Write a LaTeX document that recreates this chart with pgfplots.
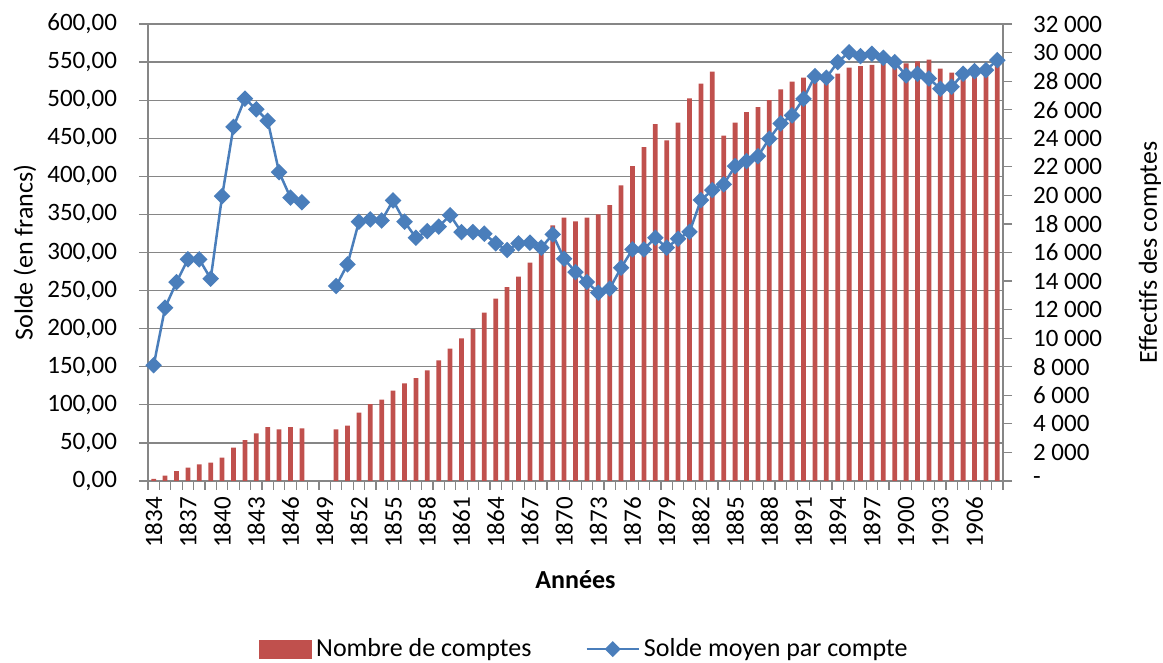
\documentclass[border=0pt]{standalone}
\usepackage{fontspec}
\setmainfont{Carlito}
\usepackage{pgfplots}
\pgfplotsset{compat=1.18}
\definecolor{barred}{HTML}{C0504D}
\definecolor{lineblue}{HTML}{4A7EBB}
\definecolor{axgray}{HTML}{868686}

\begin{document}
\begin{tikzpicture}
\pgfplotsset{
  base/.style={
    scale only axis, width=427.5pt, height=228.5pt,
    xmin=1833.5, xmax=1908.5,
    tick align=outside,
    major tick length=4.5pt,
    every tick/.style={axgray, line width=0.6pt},
    /pgf/number format/assume math mode=true,
    tick label style={font=\fontsize{12.5}{14}\selectfont, black},
    axis line style={-, axgray, line width=0.6pt},
    every outer x axis line/.append style={-},
    every outer y axis line/.append style={-},
    label style={font=\fontsize{13}{15}\selectfont},
  }
}
% left axis: grid, years, balance scale
\begin{axis}[base, name=ax,
  axis y line*=left, axis x line*=bottom,
  ymin=0, ymax=600, ytick={0,50,...,600},
  ymajorgrids, grid style={axgray, line width=0.6pt},
  yticklabel style={xshift=-7.5pt, /pgf/number format/.cd, fixed, fixed zerofill, precision=2, use comma},
  xtick={1834,1837,...,1906}, xtick style={draw=none},
  xticklabel style={rotate=90, anchor=east, /pgf/number format/1000 sep={}},
  xlabel={\textbf{Années}}, ylabel={Solde (en francs)},
  xlabel style={at={(axis description cs:0.5,-0.2166)}, anchor=center},
  ylabel style={at={(axis description cs:-0.144,0.5)}, anchor=center},
]
\end{axis}
% right axis: number of accounts
\begin{axis}[base,
  axis y line*=right, axis x line*=bottom,
  ymin=0, ymax=32000, ytick={0,2000,...,32000}, scaled y ticks=false,
  yticklabels={-,2~000,4~000,6~000,8~000,10~000,12~000,14~000,16~000,18~000,20~000,22~000,24~000,26~000,28~000,30~000,32~000},
  yticklabel style={xshift=7pt},
  xtick={1833.5,1834.5,...,1908.5}, xticklabels={},
  ylabel={Effectifs des comptes},
  ylabel style={at={(axis description cs:1.172,0.5)}, anchor=center},
]
\addplot[ybar, bar width=0.42, fill=barred, draw=none] coordinates {
(1834,150) (1835,380) (1836,700) (1837,930) (1838,1170) (1839,1290) (1840,1640)
(1841,2340) (1842,2870) (1843,3340) (1844,3780) (1845,3620) (1846,3780) (1847,3690)
(1850,3620) (1851,3880) (1852,4790) (1853,5390) (1854,5700) (1855,6330) (1856,6840)
(1857,7210) (1858,7750) (1859,8450) (1860,9270) (1861,9990) (1862,10640) (1863,11790)
(1864,12770) (1865,13580) (1866,14310) (1867,15290) (1868,16030) (1869,17900) (1870,18440)
(1871,18180) (1872,18440) (1873,18670) (1874,19320) (1875,20700) (1876,22050) (1877,23380)
(1878,24990) (1879,23850) (1880,25090) (1881,26790) (1882,27820) (1883,28660) (1884,24180)
(1885,25090) (1886,25830) (1887,26180) (1888,26670) (1889,27420) (1890,27960) (1891,28240)
(1892,28450) (1893,28400) (1894,28520) (1895,28940) (1896,29050) (1897,29140) (1898,29200)
(1899,29290) (1900,29240) (1901,29380) (1902,29500) (1903,28870) (1904,28590) (1905,28700)
(1906,28800) (1907,28940) (1908,29290)
};
\end{axis}
% balance line on top, with legend
\begin{axis}[base, hide axis, ymin=0, ymax=600, unbounded coords=jump,
  legend style={at={(0.5117,-0.368)}, anchor=center, draw=none, fill=none,
    legend columns=2, font=\fontsize{13}{15}\selectfont,
    /tikz/every even column/.append style={column sep=25pt}},
]
\addlegendimage{legend image code/.code={\fill[barred] (0pt,-4.5pt) rectangle (26pt,4.5pt);}}
\addlegendentry{Nombre de comptes}
\addplot[lineblue, line width=1.25pt, mark=square*, mark size=2.3pt,
  mark options={rotate=45, fill=lineblue, draw=lineblue},
  legend image code/.code={
    \draw[lineblue, line width=1.25pt] (0pt,0pt) -- (26pt,0pt);
    \fill[lineblue, rotate around={45:(13pt,0pt)}] (10.8pt,-2.2pt) rectangle (15.2pt,2.2pt);}]
coordinates {
(1834,152) (1835,227.6) (1836,261) (1837,291) (1838,291) (1839,265.6) (1840,374)
(1841,465) (1842,502) (1843,488) (1844,473) (1845,405.5) (1846,372) (1847,366)
(1848,nan) (1849,nan)
(1850,256) (1851,284.4) (1852,340.4) (1853,343.4) (1854,342) (1855,368.4) (1856,340.4)
(1857,319.4) (1858,328) (1859,333.9) (1860,349) (1861,326.8) (1862,326.8) (1863,324.7)
(1864,312) (1865,303.2) (1866,312) (1867,312.9) (1868,306.3) (1869,323.8) (1870,291.9)
(1871,274.3) (1872,261.2) (1873,247.2) (1874,252.5) (1875,280) (1876,304) (1877,304)
(1878,319.4) (1879,306.3) (1880,318) (1881,327) (1882,368.8) (1883,381.9) (1884,389.4)
(1885,413.4) (1886,420) (1887,426.5) (1888,449.3) (1889,469.4) (1890,480) (1891,501.8)
(1892,531.5) (1893,529.4) (1894,549.9) (1895,563) (1896,557.7) (1897,560.9) (1898,555.6)
(1899,549.9) (1900,532.4) (1901,534.6) (1902,528.5) (1903,515) (1904,517.6) (1905,534.6)
(1906,538) (1907,539.4) (1908,552.5)
};
\addlegendentry{Solde moyen par compte}
\end{axis}
\pgfresetboundingbox
\path[use as bounding box] ([shift={(-74pt,-90.5pt)}]ax.south west) rectangle ([shift={(80pt,12pt)}]ax.north east);
\end{tikzpicture}
\end{document}
